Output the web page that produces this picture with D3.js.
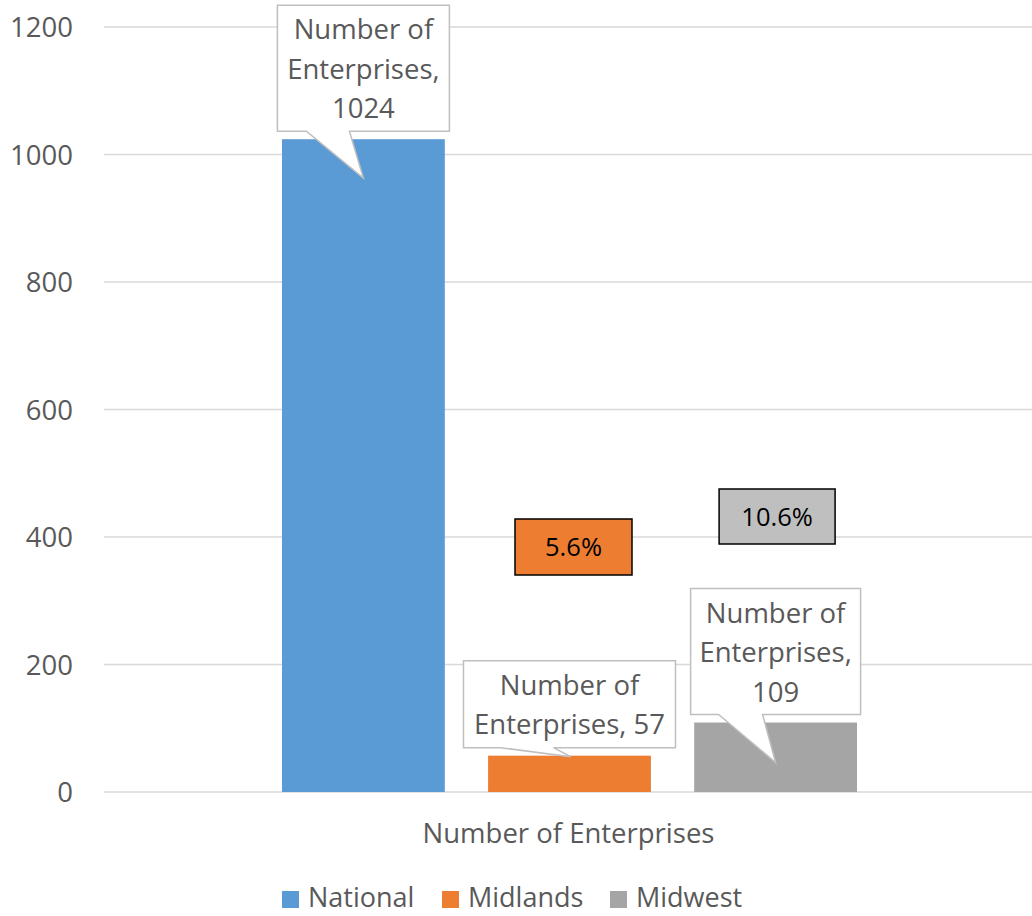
<!DOCTYPE html>
<html>
<head>
<meta charset="utf-8">
<script src="https://cdn.jsdelivr.net/npm/d3@7"></script>
<style>
  body { margin: 0; background: #fff; }
  text { font-family: "Open Sans", "Noto Sans", sans-serif; }
</style>
</head>
<body>
<svg id="chart" width="1032" height="916"></svg>
<script>
var category = "Number of Enterprises";
var regions = ["National", "Midlands", "Midwest"];
var counts = [1024, 57, 109];
var shares = [null, "5.6%", "10.6%"];
var yTicks = [0, 200, 400, 600, 800, 1000, 1200];
var colors = ["#5b9bd5", "#ed7d31", "#a5a5a5"];

(function barChart() {
    var svg = d3.select("#chart"),
        margin = {left: 104, right: 0, top: 27, bottom: 124},
        width = 1035 - margin.left,
        height = 916 - margin.top - margin.bottom;

    var g = svg.append("g")
        .attr("transform", "translate(" + margin.left + "," + margin.top + ")");

    var y = d3.scaleLinear().domain([0, 1200]).range([height, 0]);
    var x0 = d3.scaleBand().domain([category]).range([0, width]).paddingOuter(0);
    var x1 = d3.scaleBand().domain(regions)
        .range([178, width - 178]).paddingInner(0.21).paddingOuter(0);

    // gridlines
    g.selectAll(".grid").data(yTicks).enter().append("line")
        .attr("x1", 0).attr("x2", width)
        .attr("y1", function (d) { return y(d); })
        .attr("y2", function (d) { return y(d); })
        .attr("stroke", "#d9d9d9").attr("stroke-width", 1.5);

    g.selectAll(".tick").data(yTicks).enter().append("text")
        .attr("x", -31)
        .attr("y", function (d) { return y(d) + 10; })
        .attr("text-anchor", "end")
        .attr("fill", "#595959")
        .style("font-size", "27.5px")
        .text(function (d) { return d; });

    var data = regions.map(function (r, i) {
        return {region: r, value: counts[i], share: shares[i], color: colors[i]};
    });

    g.selectAll(".bar").data(data).enter().append("rect")
        .attr("x", function (d) { return x1(d.region); })
        .attr("y", function (d) { return y(d.value); })
        .attr("width", x1.bandwidth())
        .attr("height", function (d) { return height - y(d.value); })
        .attr("fill", function (d) { return d.color; });

    // callout layout relative to bar centre/top
    var callouts = [
        {w: 172, top: -134, h: 126, base: [-57, -14], tip: [0, 39], lines: ["Number of", "Enterprises,", "1024"]},
        {w: 212, top: -95, h: 87, base: [-69, -16], tip: [1, 1], lines: ["Number of", "Enterprises, 57"]},
        {w: 170, top: -134, h: 126, base: [-57, -13], tip: [0, 40], lines: ["Number of", "Enterprises,", "109"]}
    ];

    data.forEach(function (d, i) {
        var c = callouts[i],
            cx = x1(d.region) + x1.bandwidth() / 2,
            ty = y(d.value),
            left = cx - c.w / 2, top = ty + c.top, bottom = top + c.h;
        var pts = [
            [left, top], [left + c.w, top], [left + c.w, bottom],
            [cx + c.base[1], bottom], [cx + c.tip[0], ty + c.tip[1]],
            [cx + c.base[0], bottom], [left, bottom]
        ];
        g.append("path")
            .attr("d", "M" + pts.join("L") + "Z")
            .attr("fill", "#fff")
            .attr("stroke", "#bfbfbf")
            .attr("stroke-width", 1.5);
        c.lines.forEach(function (t, k) {
            g.append("text")
                .attr("x", cx)
                .attr("y", top + 34 + k * 39.5)
                .attr("text-anchor", "middle")
                .attr("fill", "#595959")
                .style("font-size", "27.5px")
                .text(t);
        });
    });

    // percentage boxes
    var shareBoxes = [null, {dx: 4, cy: 520, w: 117, h: 56}, {dx: 1.5, cy: 489.5, w: 116, h: 55}];
    data.forEach(function (d, i) {
        if (!d.share) return;
        var b = shareBoxes[i],
            cx = x1(d.region) + x1.bandwidth() / 2 + b.dx;
        g.append("rect")
            .attr("x", cx - b.w / 2).attr("y", b.cy - b.h / 2)
            .attr("width", b.w).attr("height", b.h)
            .attr("fill", i === 1 ? d.color : "#bfbfbf")
            .attr("stroke", "#000").attr("stroke-width", 1.5);
        g.append("text")
            .attr("x", cx).attr("y", b.cy + 9)
            .attr("text-anchor", "middle")
            .attr("fill", "#000")
            .style("font-size", "25.5px")
            .text(d.share);
    });

    // category label
    g.append("text")
        .attr("x", x0(category) + x0.bandwidth() / 2 - 1)
        .attr("y", height + 51)
        .attr("text-anchor", "middle")
        .attr("fill", "#595959")
        .style("font-size", "27.5px")
        .text(category);

    // legend
    var legendX = [282, 442, 610];
    var legend = svg.append("g");
    data.forEach(function (d, i) {
        legend.append("rect")
            .attr("x", legendX[i]).attr("y", 891)
            .attr("width", 17).attr("height", 17)
            .attr("fill", d.color);
        legend.append("text")
            .attr("x", legendX[i] + 26).attr("y", 907)
            .attr("fill", "#595959")
            .style("font-size", "27px")
            .text(d.region);
    });
}());
</script>
</body>
</html>
